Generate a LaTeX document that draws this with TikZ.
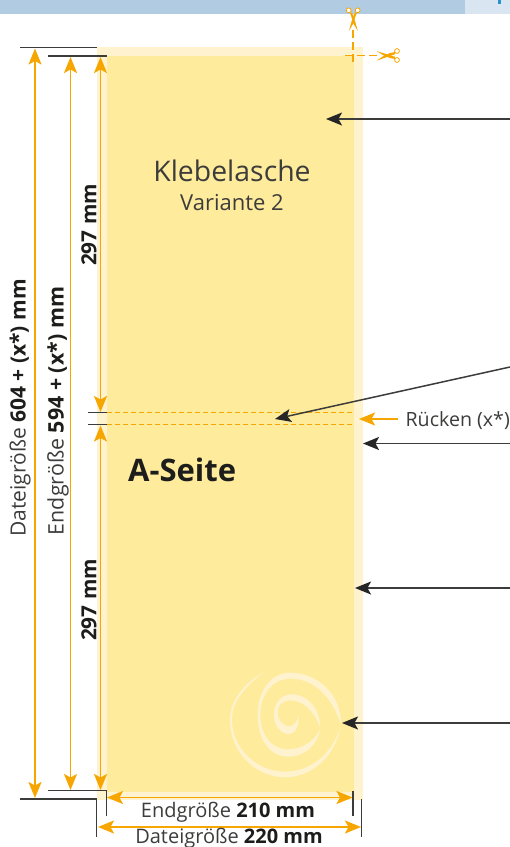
\documentclass[tikz,border=0pt]{standalone}
\usepackage{fontspec}
\setmainfont{Open Sans}
\usetikzlibrary{arrows.meta}
\definecolor{barblue}{HTML}{B0CBE2}
\definecolor{barlight}{HTML}{D9E5F1}
\definecolor{barmark}{HTML}{2A93CC}
\definecolor{pagelight}{HTML}{FEF3CE}
\definecolor{pagedark}{HTML}{FFEB9C}
\definecolor{dimorange}{HTML}{F7A600}
\definecolor{inkdark}{HTML}{3C3C3B}
\definecolor{inkbold}{HTML}{1D1D1B}
\newcommand{\strongpart}[1]{\textbf{\textcolor{inkbold}{#1}}}
\tikzset{
  x=1pt,y=-1pt,
  dimarrow/.style={draw=dimorange,line width=1.8pt,{Stealth[length=16pt,width=13pt,inset=3.5pt]}-{Stealth[length=16pt,width=13pt,inset=3.5pt]}},
  callout/.style={draw=inkdark,line width=1.5pt,-{Stealth[length=16pt,width=13pt,inset=3.5pt,color=black!85]}},
  orangecallout/.style={draw=dimorange,line width=1.8pt,-{Stealth[length=16pt,width=13pt,inset=3.5pt]}},
  trimline/.style={draw=inkdark,line width=1.3pt},
  foldline/.style={draw=dimorange,line width=1.5pt,dash pattern=on 5pt off 3pt},
  cutline/.style={draw=dimorange,line width=1.8pt,dash pattern=on 8pt off 4pt},
  blade/.style={fill=dimorange,draw=none},
  ring/.style={draw=dimorange,line width=.8pt,fill=white},
  swirl/.style={fill=pagelight,draw=none},
  label/.style={text=inkdark,inner sep=0pt,font=\fontsize{20}{22}\selectfont},
}
\begin{document}
\begin{tikzpicture}
\useasboundingbox (0,0) rectangle (510,847);
% header bar
\fill[barblue] (0,0) rectangle (465,14);
\fill[barlight] (465,0) rectangle (510,14);
\fill[barmark] (498,0) rectangle (500.5,3.5);
% page
\fill[pagelight] (97,47) rectangle (363,800);
\fill[pagedark] (107,55.5) rectangle (354,792);
% swirl
\begin{scope}[shift={(210,660)},x=0.3333pt,y=-0.3333pt]
\fill[swirl] (163,35) .. controls (95,75) and (60,125) .. (60,180) .. controls (60,280) and (140,352) .. (225,352) .. controls (305,352) and (375,290) .. (392,200)
  .. controls (365,285) and (300,335) .. (225,335) .. controls (140,335) and (66,265) .. (66,180) .. controls (66,125) and (100,85) .. (163,35) -- cycle;
\fill[swirl] (393,195) .. controls (395,105) and (325,38) .. (240,38) .. controls (185,38) and (143,90) .. (143,165) .. controls (143,240) and (180,290) .. (235,290) .. controls (285,290) and (322,255) .. (331,208)
  .. controls (312,245) and (275,268) .. (232,268) .. controls (185,268) and (151,225) .. (151,165) .. controls (151,100) and (190,56) .. (242,56) .. controls (310,56) and (368,110) .. (393,195) -- cycle;
\fill[swirl] (331,205) .. controls (331,150) and (295,103) .. (245,103) .. controls (212,103) and (192,130) .. (192,165) .. controls (192,198) and (212,222) .. (238,222) .. controls (258,222) and (268,195) .. (266,165)
  .. controls (262,188) and (250,199) .. (236,199) .. controls (218,199) and (203,178) .. (203,156) .. controls (203,135) and (220,121) .. (240,121) .. controls (280,121) and (315,155) .. (331,205) -- cycle;
\end{scope}
% fold lines
\coordinate (foldAL) at (107,412.7);
\coordinate (foldAR) at (354,412.7);
\coordinate (foldBL) at (107,424.7);
\coordinate (foldBR) at (354,424.7);
\draw[foldline] (foldAL) -- (foldAR);
\draw[foldline] (foldBL) -- (foldBR);
% trim lines
\coordinate (t1a) at (20,47.5); \coordinate (t1b) at (97,47.5);
\coordinate (t2a) at (48,56); \coordinate (t2b) at (107,56);
\coordinate (m1a) at (88,412.7);
\coordinate (m2a) at (88,424.7);
\coordinate (b1a) at (48,790.7); \coordinate (b1b) at (106.7,790.7); \coordinate (b1c) at (106.7,816);
\coordinate (b2a) at (20,799); \coordinate (b2b) at (96.7,799); \coordinate (b2c) at (96.7,837);
\coordinate (r1a) at (353,790.7); \coordinate (r1b) at (353,816);
\coordinate (r2a) at (361.7,799); \coordinate (r2b) at (361.7,837);
\draw[trimline] (t1a) -- (t1b);
\draw[trimline] (t2a) -- (t2b);
\draw[trimline] (m1a) -- (foldAL);
\draw[trimline] (m2a) -- (foldBL);
\draw[trimline] (b1a) -- (b1b) -- (b1c);
\draw[trimline] (b2a) -- (b2b) -- (b2c);
\draw[trimline] (r1a) -- (r1b);
\draw[trimline] (r2a) -- (r2b);
% vertical dimensions
\coordinate (d1t) at (35,48.5); \coordinate (d1b) at (35,798);
\coordinate (d2t) at (70.5,57); \coordinate (d2b) at (70.5,790);
\coordinate (d3t) at (100.5,57); \coordinate (d3m) at (100.5,412);
\coordinate (d4m) at (100.5,425.5); \coordinate (d4b) at (100.5,790);
\draw[dimarrow] (d1t) -- (d1b);
\draw[dimarrow] (d2t) -- (d2b);
\draw[dimarrow] (d3t) -- (d3m);
\draw[dimarrow] (d4m) -- (d4b);
% horizontal dimensions
\coordinate (h1l) at (107,797.5); \coordinate (h1r) at (352.5,797.5);
\coordinate (h2l) at (98,827); \coordinate (h2r) at (361,827);
\draw[dimarrow] (h1l) -- (h1r);
\draw[dimarrow] (h2l) -- (h2r);
% labels
\node[label,rotate=90,font=\fontsize{21}{23}\selectfont] (lblfile) at (20,408) {Dateigröße \strongpart{604 + (x*) mm}};
\node[label,rotate=90,font=\fontsize{21.4}{23}\selectfont] (lblend) at (58,411) {Endgröße \strongpart{594 + (x*) mm}};
\node[label,rotate=90,font=\fontsize{20.8}{23}\selectfont] (lbltop) at (89,225) {\strongpart{297 mm}};
\node[label,rotate=90,font=\fontsize{20.8}{23}\selectfont] (lblbot) at (89,600) {\strongpart{297 mm}};
\node[label] (lblw1) at (228,812.5) {Endgröße \strongpart{210 mm}};
\node[label] (lblw2) at (229,838) {Dateigröße \strongpart{220 mm}};
\node[label,font=\fontsize{28.4}{30}\selectfont] (klebe) at (232,171) {Klebelasche};
\node[label,font=\fontsize{22}{24}\selectfont] (variante) at (232,203) {Variante 2};
\node[label,anchor=west,font=\fontsize{31}{33}\selectfont] (aseite) at (128,470) {\strongpart{A-Seite}};
\node[label,anchor=east,font=\fontsize{19.6}{22}\selectfont] (ruecken) at (510,420.5) {Rücken (x*)};
% callouts
\coordinate (c1s) at (510,119); \coordinate (c1e) at (326,119);
\coordinate (c2s) at (510,367); \coordinate (c2e) at (275,419);
\coordinate (c3s) at (510,443.5); \coordinate (c3e) at (363,443.5);
\coordinate (c4s) at (510,588); \coordinate (c4e) at (355,588);
\coordinate (c5s) at (510,723); \coordinate (c5e) at (342,723);
\coordinate (rue) at (359,419);
\coordinate (rus) at (398,419);
\draw[callout] (c1s) -- (c1e);
\draw[callout] (c2s) -- (c2e);
\draw[callout] (c3s) -- (c3e);
\draw[callout] (c4s) -- (c4e);
\draw[callout] (c5s) -- (c5e);
\draw[orangecallout] (rus) -- (rue);
% crop marks
\coordinate (cutVt) at (353.3,30);
\coordinate (cutVb) at (353.3,62);
\coordinate (cutHl) at (345,55.5);
\coordinate (cutHr) at (377,55.5);
\draw[cutline] (cutVt) -- (cutVb);
\draw[cutline] (cutHl) -- (cutHr);
% top scissors
\fill[blade] (349.8,12.5) -- (352,12.5) -- (355,21) -- (357.8,31) -- (353.3,23.5) -- (351.8,18) -- cycle;
\fill[blade] (356.9,12.5) -- (354.7,12.5) -- (351.7,21) -- (348.9,31) -- (353.3,23.5) -- (354.9,18) -- cycle;
\draw[ring] (348.7,10.3) circle (2.4);
\draw[ring] (357.7,10.3) circle (2.4);
% right scissors
\fill[blade] (395,59) -- (395,56.8) -- (386,54) -- (376.5,51) -- (384,55.7) -- (390,58) -- cycle;
\fill[blade] (395,52) -- (395,54.2) -- (386,57.4) -- (376.5,60.6) -- (384,55.7) -- (390,53) -- cycle;
\draw[ring] (397,51) circle (2.4);
\draw[ring] (397,60) circle (2.4);
\end{tikzpicture}
\end{document}
